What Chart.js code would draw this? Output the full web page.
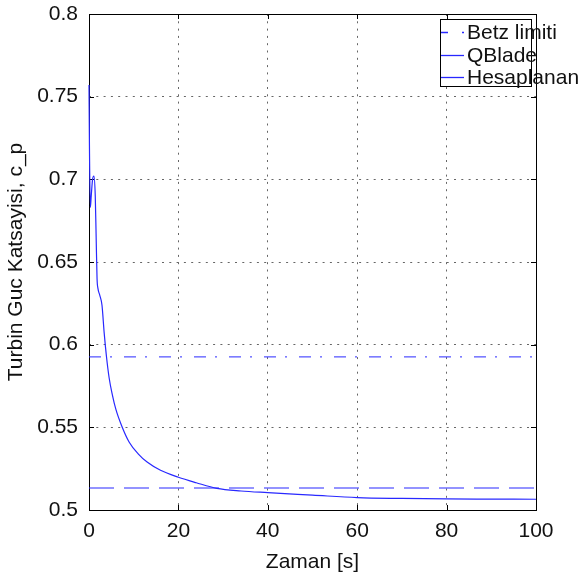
<!DOCTYPE html>
<html lang="tr">
<head>
<meta charset="UTF-8">
<title>Turbin Guc Katsayisi</title>
<script src="https://cdn.jsdelivr.net/npm/chart.js"></script>
<style>
  body { margin: 0; background: #fff; }
  #wrap { width: 580px; height: 579px; }
</style>
</head>
<body>
<div id="wrap"><canvas id="cpChart" width="580" height="579"></canvas></div>
<script>
// zaman [s] ve hesaplanan guc katsayisi
var zaman = [0, 0.1, 0.3, 0.5, 0.8, 1.1, 1.4, 1.6, 1.8, 2.0, 2.4, 2.9, 3.4, 3.9, 4.5, 5.2, 6, 7.3, 9, 11, 13, 16, 20, 24, 28.6, 34, 40, 50, 60, 70, 80, 90, 100];
var hesaplanan = [0.757, 0.72, 0.683, 0.69, 0.70, 0.702, 0.69, 0.665, 0.64, 0.634, 0.630, 0.624, 0.607, 0.593, 0.580, 0.570, 0.561, 0.551, 0.541, 0.534, 0.529, 0.524, 0.5198, 0.5165, 0.5131, 0.5115, 0.5105, 0.509, 0.5075, 0.507, 0.5067, 0.5066, 0.5065];

var betzLimiti = 0.5926;
var qblade = 0.5133;
var xSinir = [0, 100];

var xTicks = [0, 20, 40, 60, 80, 100];
var yTicks = [0.5, 0.55, 0.6, 0.65, 0.7, 0.75, 0.8];

var seriler = ['Betz limiti', 'QBlade', 'Hesaplanan'];
var mavi = 'rgb(40,40,255)';
var font = "'Liberation Sans', Arial, sans-serif";

// cerceve ve ic tikler (veriden once), legend (en son)
var cercevePlugin = {
    id: 'cerceve',
    beforeDatasetsDraw: function (chart) {
        var ctx = chart.ctx;
        var a = chart.chartArea;
        var xs = chart.scales.x, ys = chart.scales.y;
        ctx.save();
        ctx.strokeStyle = '#000';
        ctx.lineWidth = 1;
        ctx.setLineDash([]);
        ctx.strokeRect(a.left + 0.5, a.top + 0.5, a.right - a.left, a.bottom - a.top);
        ctx.beginPath();
        xTicks.forEach(function (t) {
            var px = Math.round(xs.getPixelForValue(t)) + 0.5;
            ctx.moveTo(px, a.bottom); ctx.lineTo(px, a.bottom - 5);
            ctx.moveTo(px, a.top); ctx.lineTo(px, a.top + 5);
        });
        yTicks.forEach(function (t) {
            var py = Math.round(ys.getPixelForValue(t)) + 0.5;
            ctx.moveTo(a.left, py); ctx.lineTo(a.left + 5, py);
            ctx.moveTo(a.right, py); ctx.lineTo(a.right - 5, py);
        });
        ctx.stroke();
        ctx.restore();
    },
    afterDraw: function (chart) {
        var ctx = chart.ctx;
        ctx.save();
        var bx = 440.5, by = 19.5, bw = 91, bh = 67;
        ctx.fillStyle = '#fff';
        ctx.fillRect(bx, by, bw, bh);
        ctx.strokeStyle = '#000';
        ctx.lineWidth = 1;
        ctx.setLineDash([]);
        ctx.strokeRect(bx, by, bw, bh);
        var dashes = [[7, 14, 2, 20], [], []];
        ctx.font = '21px ' + font;
        ctx.textBaseline = 'middle';
        seriler.forEach(function (s, i) {
            var y = Math.round(32 + i * 22.5) + 0.5;
            ctx.beginPath();
            ctx.setLineDash(dashes[i]);
            ctx.lineWidth = 1.3;
            ctx.strokeStyle = mavi;
            ctx.moveTo(441, y);
            ctx.lineTo(464, y);
            ctx.stroke();
            ctx.fillStyle = '#111';
            ctx.fillText(s, 467, y + 1);
        });
        ctx.restore();
    }
};

var chart = new Chart(document.getElementById('cpChart').getContext('2d'), {
    type: 'line',
    data: {
        datasets: [
            {
                label: seriler[0],
                data: xSinir.map(function (x) { return { x: x, y: betzLimiti }; }),
                borderColor: mavi,
                borderWidth: 1,
                borderDash: [12, 9, 2, 12],
                pointRadius: 0
            },
            {
                label: seriler[1],
                data: xSinir.map(function (x) { return { x: x, y: qblade }; }),
                borderColor: mavi,
                borderWidth: 1.2,
                borderDash: [25, 10],
                pointRadius: 0
            },
            {
                label: seriler[2],
                data: zaman.map(function (t, i) { return { x: t, y: hesaplanan[i] }; }),
                borderColor: mavi,
                borderWidth: 1.2,
                pointRadius: 0,
                cubicInterpolationMode: 'monotone',
                clip: 2
            }
        ]
    },
    options: {
        responsive: false,
        animation: false,
        layout: { padding: { left: 0, top: 14, right: 44, bottom: 0 } },
        plugins: { legend: { display: false }, tooltip: { enabled: false } },
        scales: {
            x: {
                type: 'linear',
                min: 0, max: 100,
                afterFit: function (s) { s.height = 69; s.paddingLeft = 0; s.paddingRight = 0; },
                afterBuildTicks: function (s) { s.ticks = xTicks.map(function (v) { return { value: v }; }); },
                grid: { color: '#666', lineWidth: 1, drawTicks: false },
                border: { display: false, dash: [2, 5.3] },
                ticks: { color: '#111', font: { family: font, size: 21 }, padding: 9 },
                title: { display: true, text: 'Zaman [s]', color: '#111', font: { family: font, size: 21 }, padding: { top: 0, bottom: 4 } }
            },
            y: {
                min: 0.5, max: 0.8,
                afterFit: function (s) { s.width = 89; s.paddingTop = 0; s.paddingBottom = 0; },
                afterBuildTicks: function (s) { s.ticks = yTicks.map(function (v) { return { value: v }; }); },
                grid: { color: '#666', lineWidth: 1, drawTicks: false },
                border: { display: false, dash: [2, 5.3] },
                ticks: {
                    color: '#111', font: { family: font, size: 21 }, padding: 11,
                    callback: function (v) { return String(+v.toFixed(2)); }
                },
                title: { display: true, text: 'Turbin Guc Katsayisi, c_p', color: '#111', font: { family: font, size: 21 }, padding: { top: 4, bottom: 0 } }
            }
        }
    },
    plugins: [cercevePlugin]
});
</script>
</body>
</html>
